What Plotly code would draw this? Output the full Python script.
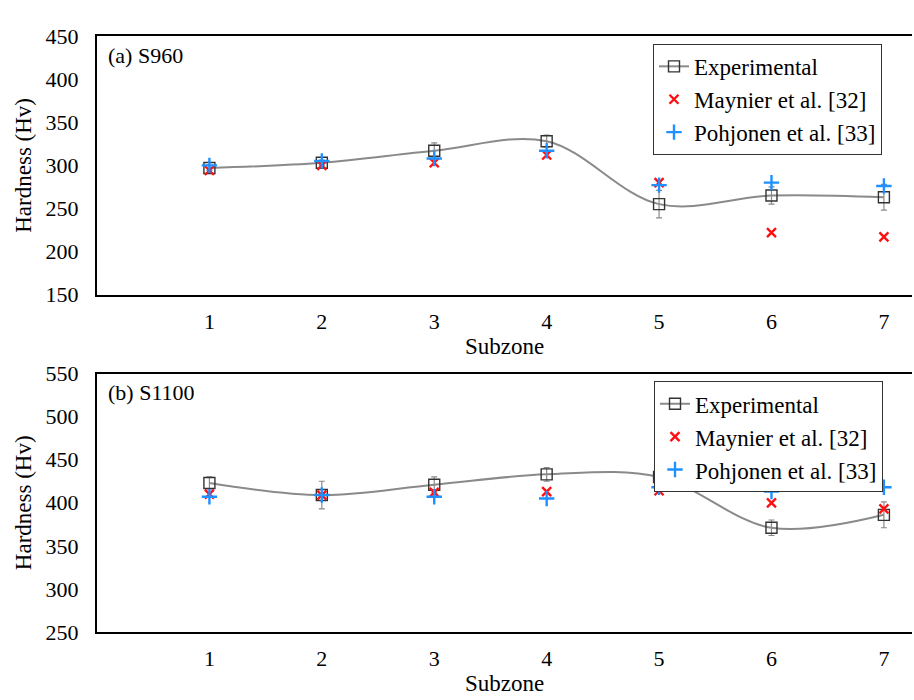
import plotly.graph_objects as go
from plotly.subplots import make_subplots

# Subzone positions across the heat-affected zone
subzones = [1, 2, 3, 4, 5, 6, 7]
tick_labels = ["1", "2", "3", "4", "5", "6", "7"]

# (a) S960 hardness (Hv)
s960_exp = [297, 303, 317, 328, 255, 265, 263]
s960_exp_err = [3, 3, 9, 7, 16, 10, 15]
s960_maynier = [294, 300, 303, 312, 280, 222, 217]
s960_pohjonen = [300, 305, 308, 317, 277, 280, 276]

# (b) S1100 hardness (Hv)
s1100_exp = [423, 409, 421, 433, 430, 371, 386]
s1100_exp_err = [7, 16, 9, 8, 16, 9, 15]
s1100_maynier = [410, 409, 412, 413, 414, 400, 393]
s1100_pohjonen = [407, 409, 407, 405, 418, 413, 418]

FONT = "Liberation Serif"
W, H = 914, 700
M = 2  # small page margin on every side
PW, PH = W - 2 * M, H - 2 * M


def px_x(px):
    """Page pixel column -> paper x fraction."""
    return (px - M) / PW


def px_y(py):
    """Page pixel row -> paper y fraction."""
    return 1 - (py - M) / PH


fig = make_subplots(rows=2, cols=1)


def add_panel(exp, err, may, poh, row, leg):
    fig.add_trace(go.Scatter(
        x=subzones, y=exp, name="Experimental", mode="lines+markers",
        line=dict(color="#8a8a8a", width=2, shape="spline", smoothing=1.0),
        marker=dict(symbol="square-open", size=11, color="#333333",
                    line=dict(width=1.4, color="#333333")),
        error_y=dict(type="data", array=err, visible=True, color="#8a8a8a",
                     thickness=1.2, width=3),
        legend=leg), row=row, col=1)
    fig.add_trace(go.Scatter(
        x=subzones, y=may, name="Maynier et al. [32]", mode="markers",
        marker=dict(symbol="x-thin", size=9, color="#ff1010",
                    line=dict(width=2.4, color="#ff1010")),
        legend=leg), row=row, col=1)
    fig.add_trace(go.Scatter(
        x=subzones, y=poh, name="Pohjonen et al. [33]", mode="markers",
        marker=dict(symbol="cross-thin", size=11, color="#1e90ff",
                    line=dict(width=2.4, color="#1e90ff")),
        legend=leg), row=row, col=1)


add_panel(s960_exp, s960_exp_err, s960_maynier, s960_pohjonen, 1, "legend")
add_panel(s1100_exp, s1100_exp_err, s1100_maynier, s1100_pohjonen, 2, "legend2")

fig.update_xaxes(domain=[px_x(97), 1.0], range=[0, 7.25],
                 tickmode="array", tickvals=subzones, ticktext=tick_labels,
                 showline=True, linecolor="black", linewidth=2, mirror=True,
                 showgrid=False, zeroline=False,
                 ticks="outside", ticklen=6, tickcolor="rgba(0,0,0,0)",
                 tickfont=dict(family=FONT, size=22, color="black"),
                 title=dict(text="Subzone", standoff=0,
                            font=dict(family=FONT, size=23, color="black")))
fig.update_yaxes(showline=True, linecolor="black", linewidth=2, dtick=50,
                 showgrid=False, zeroline=False,
                 ticks="outside", ticklen=12, tickcolor="rgba(0,0,0,0)",
                 tickfont=dict(family=FONT, size=22, color="black"),
                 title=dict(text="Hardness (Hv)", standoff=8,
                            font=dict(family=FONT, size=23, color="black")))
fig.update_yaxes(domain=[px_y(293), px_y(25)], range=[150, 450], row=1, col=1)
fig.update_yaxes(domain=[px_y(643), px_y(375)], range=[250, 550], row=2, col=1)


def legend_spec(x_px, y_px):
    return dict(x=px_x(x_px), y=px_y(y_px), xanchor="left", yanchor="top",
                font=dict(family=FONT, size=23, color="black"),
                bgcolor="white", bordercolor="#333333", borderwidth=1)


fig.update_layout(
    width=W, height=H,
    margin=dict(l=M, r=M, t=M, b=M, pad=0),
    paper_bgcolor="white", plot_bgcolor="white",
    font=dict(family=FONT, color="black"),
    legend=legend_spec(653, 33),
    legend2=legend_spec(654, 383),
)
fig.add_annotation(text="(a) S960", xref="paper", yref="paper", x=px_x(106), y=px_y(45),
                   xanchor="left", yanchor="middle", showarrow=False,
                   font=dict(family=FONT, size=22, color="black"))
fig.add_annotation(text="(b) S1100", xref="paper", yref="paper", x=px_x(106), y=px_y(395),
                   xanchor="left", yanchor="middle", showarrow=False,
                   font=dict(family=FONT, size=22, color="black"))

fig.write_html("out.html")
